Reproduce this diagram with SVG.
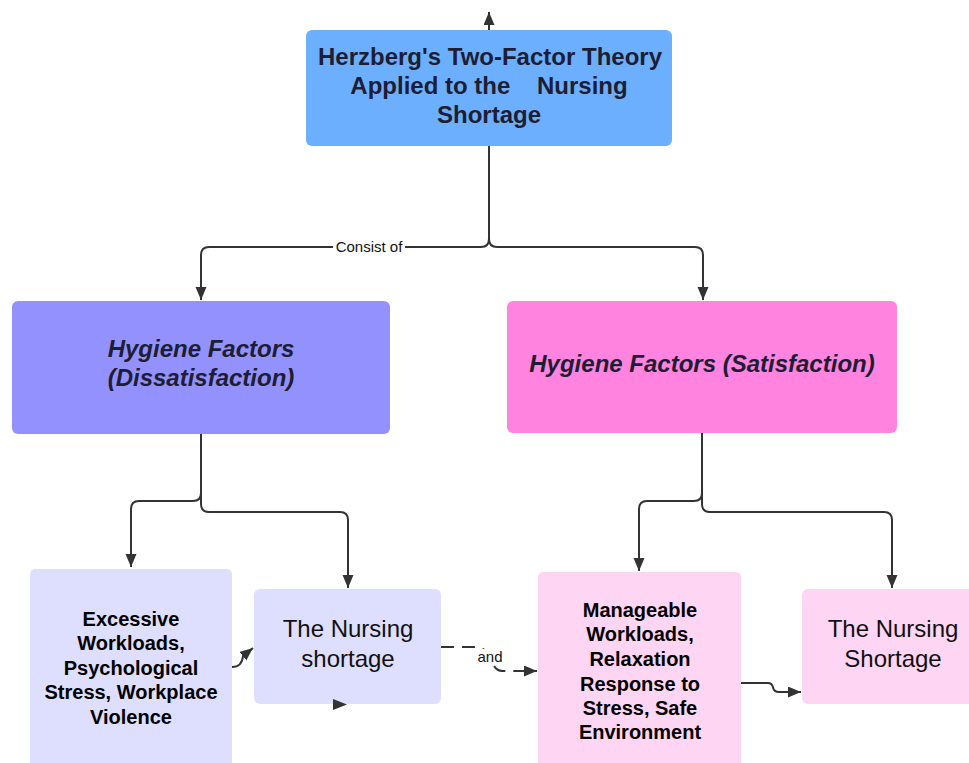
<svg xmlns="http://www.w3.org/2000/svg" width="969" height="763" viewBox="0 0 969 763">
<style>
text{font-family:"Liberation Sans",Arial,sans-serif;text-anchor:middle}
.t{font-size:24px;font-weight:bold;fill:#1d1d33}
.h{font-size:24px;font-weight:bold;font-style:italic;fill:#1d1d33}
.b{font-size:20px;font-weight:bold;fill:#000}
.n{font-size:24px;fill:#111}
.l{font-size:15px;fill:#111}
.c{fill:none;stroke:#333;stroke-width:2}
</style>
<defs>
<marker id="ah" markerUnits="userSpaceOnUse" markerWidth="14" markerHeight="12" refX="13" refY="5.5" orient="auto"><path d="M0,0 L13,5.5 L0,11 z" fill="#333"/></marker>
</defs>
<rect width="969" height="763" fill="#fff"/>
<g id="title">
<rect x="306" y="30" width="366" height="116" rx="6" fill="#6caffe"/>
<text class="t" x="490" y="65">Herzberg's Two-Factor Theory</text>
<text class="t" x="489" y="94" xml:space="preserve">Applied to the    Nursing</text>
<text class="t" x="489" y="123">Shortage</text>
</g>
<g id="hygiene-dissatisfaction">
<rect x="12" y="301" width="378" height="133" rx="6" fill="#9391fe"/>
<text class="h" x="201" y="357">Hygiene Factors</text>
<text class="h" x="201" y="386">(Dissatisfaction)</text>
</g>
<g id="hygiene-satisfaction">
<rect x="507" y="301" width="390" height="132" rx="6" fill="#ff83df"/>
<text class="h" x="702" y="372">Hygiene Factors (Satisfaction)</text>
</g>
<g id="excessive">
<rect x="30" y="569" width="202" height="210" rx="5" fill="#dedeff"/>
<text class="b" x="131" y="626">Excessive</text>
<text class="b" x="131" y="650">Workloads,</text>
<text class="b" x="131" y="675">Psychological</text>
<text class="b" x="131" y="699">Stress, Workplace</text>
<text class="b" x="131" y="724">Violence</text>
</g>
<g id="nursing-shortage-left">
<rect x="254" y="589" width="187" height="115" rx="6" fill="#dedeff"/>
<text class="n" x="348" y="637">The Nursing</text>
<text class="n" x="348" y="667">shortage</text>
</g>
<g id="manageable">
<rect x="538" y="572" width="203" height="210" rx="5" fill="#ffd5f4"/>
<text class="b" x="640" y="617">Manageable</text>
<text class="b" x="640" y="641">Workloads,</text>
<text class="b" x="640" y="666">Relaxation</text>
<text class="b" x="640" y="691">Response to</text>
<text class="b" x="640" y="715">Stress, Safe</text>
<text class="b" x="640" y="739">Environment</text>
</g>
<g id="nursing-shortage-right">
<rect x="802" y="589" width="190" height="115" rx="6" fill="#ffd5f4"/>
<text class="n" x="893" y="637">The Nursing</text>
<text class="n" x="893" y="667">Shortage</text>
</g>
<g id="connectors">
<path class="c" d="M489,30 V12" marker-end="url(#ah)"/>
<path class="c" d="M489,146 V239 Q489,247 481,247 H209 Q201,247 201,255 V300" marker-end="url(#ah)"/>
<path class="c" d="M489,239 Q489,247 497,247 H695 Q703,247 703,255 V300" marker-end="url(#ah)"/>
<path class="c" d="M201,434 V493 Q201,501 193,501 H139 Q131,501 131,509 V567" marker-end="url(#ah)"/>
<path class="c" d="M201,493 V504 Q201,512 209,512 H340 Q348,512 348,520 V588" marker-end="url(#ah)"/>
<path class="c" d="M702,433 V493 Q702,501 694,501 H647 Q639,501 639,509 V571" marker-end="url(#ah)"/>
<path class="c" d="M702,493 V504 Q702,512 710,512 H884 Q892,512 892,520 V588" marker-end="url(#ah)"/>
<path class="c" d="M232,667 Q242,667 243,656 L253,648" stroke-width="1.5" marker-end="url(#ah)"/>
<path d="M333,699 L347,704.5 L333,710 z" fill="#333"/>
<path class="c" d="M441,647 H478 C490,647 490,671 502,671 H537" stroke-dasharray="13,8" marker-end="url(#ah)"/>
<path class="c" d="M741,683 H768 Q772,683 773,687.5 Q774,692 779,692 H801" stroke-width="1" marker-end="url(#ah)"/>
<rect x="333" y="238" width="72" height="17" fill="#fff"/>
<text class="l" x="369" y="251.5">Consist of</text>
<rect x="476" y="649" width="28" height="16" fill="#fff"/>
<text class="l" x="490" y="662">and</text>
</g>
</svg>
